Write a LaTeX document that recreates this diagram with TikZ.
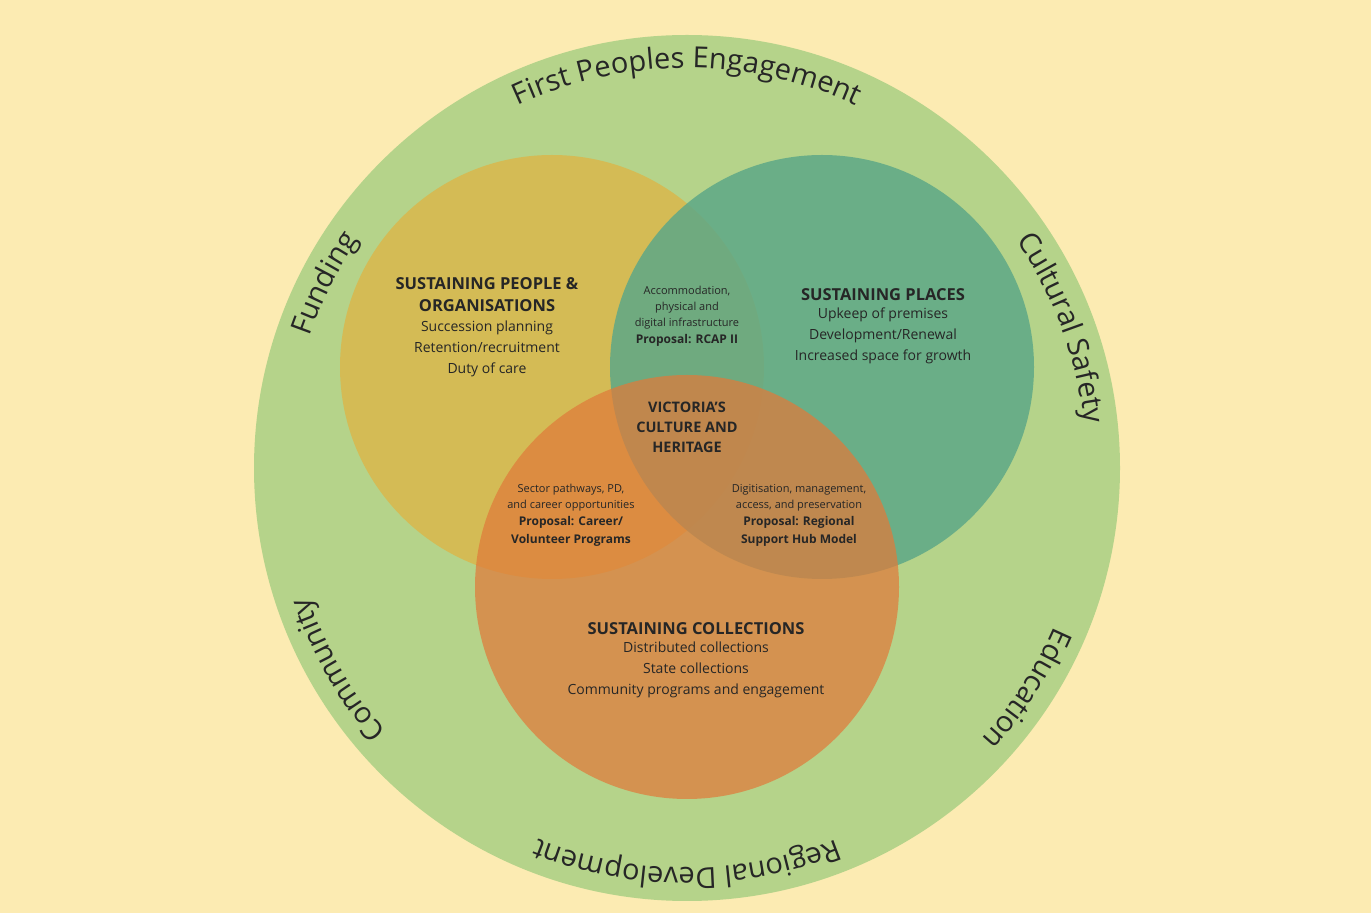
\documentclass[tikz,border=0pt]{standalone}
\usepackage{fontspec}
\setmainfont{Open Sans}
\usetikzlibrary{decorations.text}
\definecolor{bg}{HTML}{FCEBB2}
\definecolor{ring}{HTML}{B5D38A}
\definecolor{cy}{HTML}{D4BB55}
\definecolor{ct}{HTML}{5EA887}
\definecolor{co}{HTML}{E07A3A}
\definecolor{ink}{HTML}{262626}
\tikzset{
 lbl/.style={align=center,text=ink,inner sep=0pt},
 head/.style={lbl,font=\bfseries\fontsize{16.5}{22}\selectfont},
 body/.style={lbl,font=\fontsize{14}{21}\selectfont},
 small/.style={lbl,font=\fontsize{11}{16}\selectfont},
 ringtxt/.style={decorate,decoration={text along path,text align=center,text color=ink}}
}
\newcommand{\ringtext}[3]{\path[ringtxt,decoration={text={|\fontsize{29}{29}\selectfont|#3}}] (687,445) ++(#1:400) arc[start angle=#1,end angle=#2,radius=400];}
\begin{document}
\begin{tikzpicture}[x=1pt,y=1pt]
\fill[bg] (0,0) rectangle (1371,913);
\useasboundingbox (0,0) rectangle (1371,913);
\fill[ring] (687,445) circle[radius=433];
\fill[cy] (552,546) circle[radius=212];
\fill[ct,opacity=0.85] (822,546) circle[radius=212];
\fill[co,opacity=0.72] (687,326) circle[radius=212];
\ringtext{130}{50}{First Peoples Engagement}
\ringtext{178}{128}{Funding}
\ringtext{47}{-6}{Cultural Safety}
\ringtext{-8}{-58}{Education}
\ringtext{-50}{-130}{Regional Development}
\ringtext{-123}{-177}{Community}
\node[head] (yh) at (487,618) {SUSTAINING PEOPLE \&\\ORGANISATIONS};
\node[body] (yb) at (487,564) {Succession planning\\Retention/recruitment\\Duty of care};
\node[head] (th) at (883,618) {SUSTAINING PLACES};
\node[body] (tb) at (883,577) {Upkeep of premises\\Development/Renewal\\Increased space for growth};
\node[small] (yt) at (687,605) {Accommodation,\\physical and\\digital infrastructure};
\node[small,font=\bfseries\fontsize{12}{16}\selectfont] (ytp) at (687,573) {Proposal: RCAP II};
\node[head,font=\bfseries\fontsize{14.5}{20}\selectfont] (c) at (687,486) {VICTORIA’S\\CULTURE AND\\HERITAGE};
\node[small] (yo) at (571,415) {Sector pathways, PD,\\and career opportunities};
\node[small,font=\bfseries\fontsize{12}{18}\selectfont] (yop) at (571,382) {Proposal: Career/\\Volunteer Programs};
\node[small] (to) at (799,415) {Digitisation, management,\\access, and preservation};
\node[small,font=\bfseries\fontsize{12}{18}\selectfont] (top) at (799,382) {Proposal: Regional\\Support Hub Model};
\node[head] (oh) at (696,284) {SUSTAINING COLLECTIONS};
\node[body] (ob) at (696,243) {Distributed collections\\State collections\\Community programs and engagement};
\end{tikzpicture}
\end{document}
